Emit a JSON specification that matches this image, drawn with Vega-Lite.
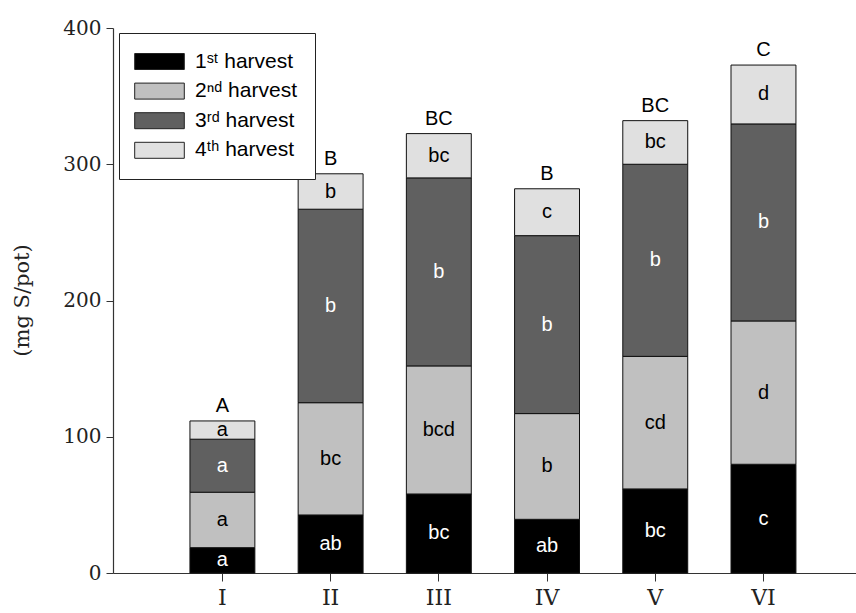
{
  "$schema": "https://vega.github.io/schema/vega-lite/v6.json",
  "width": 743,
  "height": 545,
  "autosize": "none",
  "padding": {"left": 113, "top": 28, "right": 0, "bottom": 40},
  "background": "white",
  "config": {"view": {"stroke": null}},
  "data": {
    "values": [
      {"treatment": "I", "harvest": "1ˢᵗ harvest", "value": 18.6, "letter": "a", "group": "A"},
      {"treatment": "I", "harvest": "2ⁿᵈ harvest", "value": 40.7, "letter": "a", "group": "A"},
      {"treatment": "I", "harvest": "3ʳᵈ harvest", "value": 38.9, "letter": "a", "group": "A"},
      {"treatment": "I", "harvest": "4ᵗʰ harvest", "value": 13.4, "letter": "a", "group": "A"},
      {"treatment": "II", "harvest": "1ˢᵗ harvest", "value": 42.6, "letter": "ab", "group": "B"},
      {"treatment": "II", "harvest": "2ⁿᵈ harvest", "value": 82.4, "letter": "bc", "group": "B"},
      {"treatment": "II", "harvest": "3ʳᵈ harvest", "value": 142.0, "letter": "b", "group": "B"},
      {"treatment": "II", "harvest": "4ᵗʰ harvest", "value": 26.0, "letter": "b", "group": "B"},
      {"treatment": "III", "harvest": "1ˢᵗ harvest", "value": 58.0, "letter": "bc", "group": "BC"},
      {"treatment": "III", "harvest": "2ⁿᵈ harvest", "value": 94.0, "letter": "bcd", "group": "BC"},
      {"treatment": "III", "harvest": "3ʳᵈ harvest", "value": 138.0, "letter": "b", "group": "BC"},
      {"treatment": "III", "harvest": "4ᵗʰ harvest", "value": 32.5, "letter": "bc", "group": "BC"},
      {"treatment": "IV", "harvest": "1ˢᵗ harvest", "value": 39.4, "letter": "ab", "group": "B"},
      {"treatment": "IV", "harvest": "2ⁿᵈ harvest", "value": 77.6, "letter": "b", "group": "B"},
      {"treatment": "IV", "harvest": "3ʳᵈ harvest", "value": 130.6, "letter": "b", "group": "B"},
      {"treatment": "IV", "harvest": "4ᵗʰ harvest", "value": 34.4, "letter": "c", "group": "B"},
      {"treatment": "V", "harvest": "1ˢᵗ harvest", "value": 61.7, "letter": "bc", "group": "BC"},
      {"treatment": "V", "harvest": "2ⁿᵈ harvest", "value": 97.3, "letter": "cd", "group": "BC"},
      {"treatment": "V", "harvest": "3ʳᵈ harvest", "value": 141.0, "letter": "b", "group": "BC"},
      {"treatment": "V", "harvest": "4ᵗʰ harvest", "value": 32.0, "letter": "bc", "group": "BC"},
      {"treatment": "VI", "harvest": "1ˢᵗ harvest", "value": 79.8, "letter": "c", "group": "C"},
      {"treatment": "VI", "harvest": "2ⁿᵈ harvest", "value": 105.2, "letter": "d", "group": "C"},
      {"treatment": "VI", "harvest": "3ʳᵈ harvest", "value": 144.6, "letter": "b", "group": "C"},
      {"treatment": "VI", "harvest": "4ᵗʰ harvest", "value": 43.2, "letter": "d", "group": "C"}
    ]
  },
  "encoding": {
    "x": {
      "field": "treatment",
      "type": "nominal",
      "sort": ["I", "II", "III", "IV", "V", "VI"],
      "scale": {"paddingInner": 0.4, "paddingOuter": 0.633, "align": 0.5616},
      "axis": {
        "title": null,
        "labelAngle": 0,
        "labelFont": "DejaVu Serif",
        "labelFontSize": 22,
        "labelColor": "#222",
        "labelPadding": 6,
        "tickSize": 8,
        "tickColor": "#333",
        "domainColor": "#333",
        "domainWidth": 1.2,
        "grid": false
      }
    }
  },
  "layer": [
    {
      "transform": [
        {"stack": "value", "groupby": ["treatment"], "sort": [{"field": "harvest", "order": "ascending"}], "as": ["y0", "y1"]}
      ],
      "mark": {"type": "bar", "stroke": "#111", "strokeWidth": 1},
      "encoding": {
        "y": {
          "field": "y1",
          "type": "quantitative",
          "scale": {"domain": [0, 400], "nice": false},
          "axis": {
            "title": "(mg S/pot)",
            "titleFont": "DejaVu Serif",
            "titleFontSize": 21,
            "titleFontWeight": "normal",
            "titleColor": "#222",
            "titleX": -91,
            "titleY": 272,
            "titleBaseline": "middle",
            "titleAlign": "center",
            "values": [0, 100, 200, 300, 400],
            "labelFont": "DejaVu Serif",
            "labelFontSize": 20,
            "labelColor": "#222",
            "labelPadding": 5,
            "tickSize": 7,
            "tickColor": "#333",
            "domainColor": "#333",
            "domainWidth": 1.2,
            "grid": false
          }
        },
        "y2": {"field": "y0"},
        "fill": {
          "field": "harvest",
          "type": "nominal",
          "scale": {
            "domain": ["1ˢᵗ harvest", "2ⁿᵈ harvest", "3ʳᵈ harvest", "4ᵗʰ harvest"],
            "range": ["#000000", "#c0c0c0", "#606060", "#e0e0e0"]
          },
          "legend": {
            "title": null,
            "orient": "none",
            "legendX": 6,
            "legendY": 5,
            "padding": 18,
            "strokeColor": "#222",
            "fillColor": "white",
            "symbolType": "M-3.1,-1H3.1V1H-3.1Z",
            "symbolSize": 256,
            "symbolStrokeColor": "#222",
            "symbolStrokeWidth": 1,
            "symbolOffset": 12,
            "labelOffset": 25,
            "labelFont": "Liberation Sans",
            "labelFontSize": 21,
            "labelColor": "black",
            "rowPadding": 7.6,
            "labelLimit": 300
          }
        }
      }
    },
    {
      "transform": [
        {"stack": "value", "groupby": ["treatment"], "sort": [{"field": "harvest", "order": "ascending"}], "as": ["y0", "y1"]},
        {"calculate": "(datum.y0 + datum.y1) / 2", "as": "mid"}
      ],
      "mark": {"type": "text", "font": "Liberation Sans", "fontSize": 20, "baseline": "middle", "align": "center"},
      "encoding": {
        "y": {"field": "mid", "type": "quantitative"},
        "text": {"field": "letter"},
        "color": {
          "field": "harvest",
          "type": "nominal",
          "scale": {
            "domain": ["1ˢᵗ harvest", "2ⁿᵈ harvest", "3ʳᵈ harvest", "4ᵗʰ harvest"],
            "range": ["white", "black", "white", "black"]
          },
          "legend": null
        }
      }
    },
    {
      "transform": [
        {"aggregate": [{"op": "sum", "field": "value", "as": "total"}], "groupby": ["treatment", "group"]}
      ],
      "mark": {"type": "text", "font": "Liberation Sans", "fontSize": 20, "baseline": "alphabetic", "align": "center", "dy": -9, "color": "black"},
      "encoding": {
        "y": {"field": "total", "type": "quantitative"},
        "text": {"field": "group"}
      }
    }
  ]
}
